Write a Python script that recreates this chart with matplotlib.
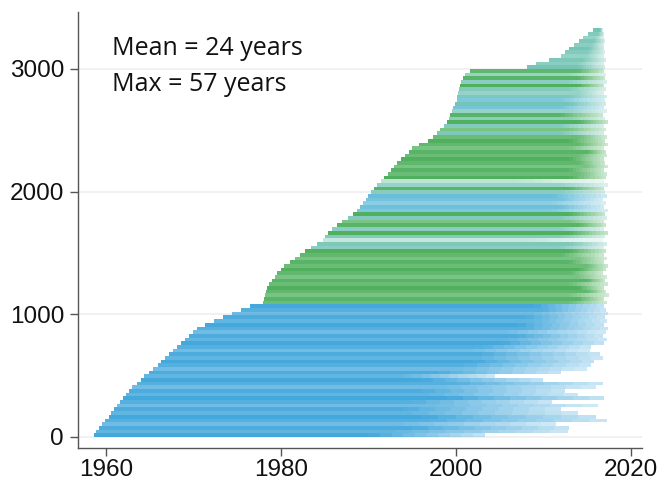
import matplotlib
matplotlib.use('Agg')
import matplotlib.pyplot as plt
import numpy as np

plt.rcParams['font.family'] = ['Liberation Sans', 'DejaVu Sans']

# each band groups 30 consecutive firms (index 30k .. 30k+30)
bandSize = 30

startYear = [
    1958.6, 1958.9, 1959.2, 1959.6, 1959.9, 1960.3, 1960.6, 1960.9, 1961.3, 1961.6,
    1961.9, 1962.3, 1962.6, 1963.0, 1963.5, 1964.0, 1964.4, 1964.9, 1965.4, 1965.9,
    1966.3, 1966.8, 1967.2, 1967.7, 1968.1, 1968.6, 1969.0, 1969.5, 1969.9, 1970.4,
    1971.3, 1972.3, 1973.4, 1974.4, 1975.4, 1976.5, 1978.0, 1978.1, 1978.2, 1978.3,
    1978.4, 1978.7, 1979.0, 1979.3, 1979.6, 1980.0, 1980.4, 1981.0, 1981.6, 1982.2,
    1982.8, 1983.5, 1984.1, 1984.8, 1985.1, 1985.4, 1985.8, 1986.4, 1987.0, 1987.7,
    1988.3, 1988.7, 1989.0, 1989.4, 1989.7, 1990.0, 1990.3, 1990.7, 1991.0, 1991.4,
    1991.8, 1992.2, 1992.6, 1992.9, 1993.3, 1993.7, 1994.2, 1994.6, 1995.0, 1995.8,
    1996.8, 1997.4, 1997.8, 1998.2, 1998.7, 1999.0, 1999.2, 1999.4, 1999.6, 1999.7,
    1999.9, 2000.1, 2000.2, 2000.3, 2000.4, 2000.5, 2000.6, 2000.8, 2001.1, 2001.6,
    2008.1, 2009.2, 2010.7, 2012.0, 2012.5, 2013.0, 2013.5, 2014.1, 2014.6, 2015.1,
    2015.7,
]

# year after which firms in the band start dropping out
fadeYear = [
    1990, 1993, 1995, 1994, 1997, 1996, 1995, 1994, 1998, 1995,
    1999, 1997, 1996, 1999, 2000, 1996, 1994, 1998, 2001, 2001,
    2002, 2003, 2003, 2002, 2003, 2005, 2006, 2007, 2006, 2008,
    2007, 2009, 2008, 2009, 2010, 2009, 2013, 2014, 2013, 2015,
    2014, 2013, 2015, 2014, 2013, 2014, 2015, 2013, 2014, 2012,
    2013, 2012, 2013, 2009, 2012, 2013, 2012, 2014, 2013, 2012,
    2013, 2011, 2012, 2011, 2012, 2011, 2012, 2013, 2012, 2007,
    2013, 2014, 2013, 2015, 2014, 2013, 2014, 2015, 2013, 2014,
    2013, 2014, 2012, 2013, 2012, 2014, 2013, 2012, 2013, 2012,
    2013, 2012, 2013, 2014, 2013, 2014, 2013, 2014, 2013, 2014,
    2014, 2014, 2014.5, 2015, 2015, 2015.2, 2015.5, 2015.8, 2016, 2016.3,
    2016.5,
]

endYear = [
    2003.3, 2012.8, 2013.0, 2011.5, 2017.3, 2016.0, 2014.0, 2012.0, 2016.3, 2011.0,
    2017.0, 2014.0, 2012.5, 2016.0, 2016.8, 2010.0, 2004.5, 2012.0, 2015.0, 2015.5,
    2015.8, 2016.8, 2016.5, 2015.3, 2015.5, 2017.0, 2017.3, 2016.8, 2017.2, 2017.4,
    2016.9, 2017.3, 2017.1, 2017.4, 2017.2, 2017.0, 2017.3, 2017.0, 2017.5, 2017.2,
    2016.9, 2017.4, 2017.1, 2017.3, 2016.8, 2017.2, 2017.4, 2017.0, 2017.3, 2016.9,
    2017.2, 2017.0, 2017.3, 2016.8, 2017.1, 2017.4, 2017.0, 2017.2, 2016.9, 2017.3,
    2017.1, 2017.4, 2017.0, 2017.2, 2016.8, 2017.3, 2017.1, 2017.0, 2017.4, 2016.9,
    2017.2, 2017.3, 2017.0, 2017.4, 2017.1, 2016.9, 2017.3, 2017.2, 2017.0, 2017.4,
    2017.1, 2017.3, 2016.9, 2017.2, 2017.0, 2017.4, 2017.1, 2016.8, 2017.3, 2017.0,
    2017.2, 2017.1, 2017.3, 2016.9, 2017.2, 2017.0, 2017.3, 2017.1, 2017.2, 2017.0,
    2017.1, 2016.9, 2017.2, 2017.0, 2017.1, 2016.9, 2017.0, 2017.1, 2016.9, 2017.0,
    2016.8,
]

# B = early cohort (blue), G = later cohort (green), T/C/W = mixed shades
bandGroup = ('B' * 36 + 'G' * 11 + 'GGGG' + 'TTWT' + 'GTGGTG' + 'CCCCC' +
             'TGTWG' + 'G' * 10 + 'GTGTGTG' + 'TCTCTTT' + 'GTGTG' + 'T' * 11)

groupColor = {'B': '#3AA3DA', 'G': '#46AC55', 'T': '#6EC2B2',
              'C': '#5FBAD8', 'W': '#B2DFD0'}
shade = [0.95, 0.8, 0.9, 0.72, 0.86]
nSteps = 10

start = np.array(startYear)
fade = np.array(fadeYear)
end = np.array(endYear)
yPos = np.arange(len(startYear)) * bandSize + bandSize / 2

fig = plt.figure(figsize=(6.6, 4.83), dpi=100)
ax = fig.add_axes([0.1182, 0.0725, 0.8545, 0.9027])

for k in range(len(startYear)):
    col = groupColor[bandGroup[k]]
    a = shade[k % 5]
    ax.barh(yPos[k], fade[k] - start[k], left=start[k], height=bandSize,
            color=col, alpha=a, linewidth=0, antialiased=False, zorder=2)
    # thinning out towards the end year
    edges = np.linspace(fade[k], end[k], nSteps + 1)
    for j in range(nSteps):
        frac = (j + 0.5) / nSteps
        ax.barh(yPos[k], edges[j + 1] - edges[j], left=edges[j],
                height=bandSize, color=col, alpha=a * (1 - 0.7 * frac),
                linewidth=0, antialiased=False, zorder=2)

ax.set_xlim(1956.8, 2021.3)
ax.set_ylim(-90, 3464)
ax.set_xticks([1960, 1980, 2000, 2020])
ax.set_yticks([0, 1000, 2000, 3000])
ax.yaxis.grid(True, color='#efefef', linewidth=1.2, zorder=0)
ax.set_axisbelow(True)

for side in ['top', 'right']:
    ax.spines[side].set_visible(False)
for side in ['left', 'bottom']:
    ax.spines[side].set_color('#555555')
    ax.spines[side].set_linewidth(1.0)

ax.tick_params(axis='both', length=6, width=1, color='#555555',
               labelsize=17.5, labelcolor='#111111')
ax.tick_params(axis='y', pad=4)
ax.tick_params(axis='x', pad=2)

ax.text(0.06, 0.901, 'Mean = 24 years', transform=ax.transAxes,
        fontsize=18, family='Open Sans', color='#111111', va='baseline')
ax.text(0.06, 0.819, 'Max = 57 years', transform=ax.transAxes,
        fontsize=18, family='Open Sans', color='#111111', va='baseline')

fig.savefig('out.png', dpi=100)
